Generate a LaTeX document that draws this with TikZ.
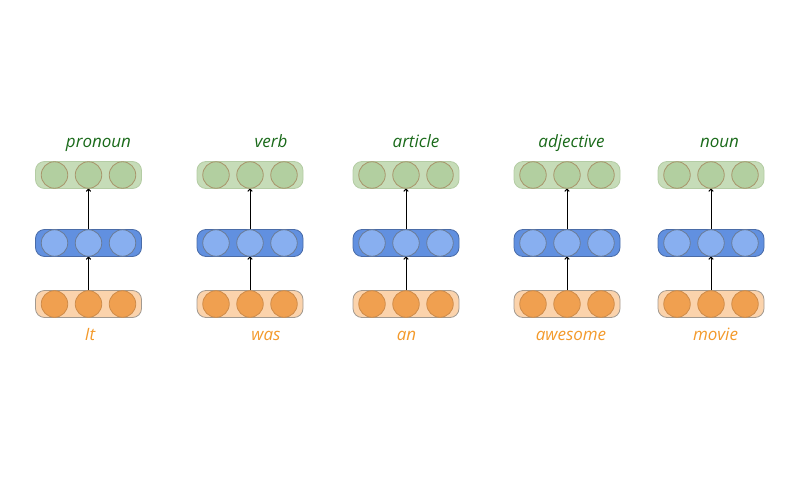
\documentclass[tikz,border=0pt]{standalone}
\usepackage{fontspec}
\setmainfont{Open Sans}
\usetikzlibrary{arrows.meta}

\definecolor{gbox}{HTML}{C6DCB8}
\definecolor{gline}{HTML}{B4CCA4}
\definecolor{gcirc}{HTML}{B2CFA0}
\definecolor{gcline}{HTML}{A8966C}
\definecolor{bbox}{HTML}{6190E0}
\definecolor{bline}{HTML}{4A6CA8}
\definecolor{bcirc}{HTML}{88AFF0}
\definecolor{bcline}{HTML}{6A7C98}
\definecolor{obox}{HTML}{FBD3AC}
\definecolor{oline}{HTML}{A39A90}
\definecolor{ocirc}{HTML}{F0A050}
\definecolor{ocline}{HTML}{CF8C4A}
\definecolor{tagtext}{HTML}{1A6A1A}
\definecolor{wordtext}{HTML}{F39A2C}

\tikzstyle{layer}=[rectangle, rounded corners=9pt, minimum width=106pt, minimum height=27pt, draw, line width=0.8pt]
\tikzstyle{unit}=[circle, minimum size=26.5pt, inner sep=0pt, draw, line width=0.8pt]
\tikzstyle{lbl}=[font=\fontsize{17}{20}\selectfont\itshape, anchor=base]

\begin{document}
\begin{tikzpicture}[x=1pt, y=-1pt]
  \useasboundingbox (0,0) rectangle (800,487);
  \foreach \n/\x/\tag/\tx/\word/\wx in {1/88.5/pronoun/98.5/It/90,
      2/250/verb/271/was/266, 3/406/article/416/an/406.5,
      4/567/adjective/571.5/awesome/571, 5/711/noun/719.5/movie/715.5} {
    % output layer
    \node[layer, fill=gbox, draw=gline] (yl\n) at (\x,175) {};
    \node[unit, fill=gcirc, draw=gcline] at (\x-34,175) {};
    \node[unit, fill=gcirc, draw=gcline] (y\n) at (\x,175) {};
    \node[unit, fill=gcirc, draw=gcline] at (\x+34,175) {};
    % hidden layer
    \node[layer, fill=bbox, draw=bline] (hl\n) at (\x,243) {};
    \node[unit, fill=bcirc, draw=bcline] at (\x-34,243) {};
    \node[unit, fill=bcirc, draw=bcline] (h\n) at (\x,243) {};
    \node[unit, fill=bcirc, draw=bcline] at (\x+34,243) {};
    % input layer
    \node[layer, fill=obox, draw=oline] (xl\n) at (\x,304) {};
    \node[unit, fill=ocirc, draw=ocline] at (\x-34,304) {};
    \node[unit, fill=ocirc, draw=ocline] (x\n) at (\x,304) {};
    \node[unit, fill=ocirc, draw=ocline] at (\x+34,304) {};
    \node[lbl, text=tagtext]  (tag\n)  at (\tx,147) {\tag};
    \node[lbl, text=wordtext] (word\n) at (\wx,340) {\word};
    \draw[line width=1pt, -{To[length=3pt, width=5pt]}] (x\n) -- (h\n);
    \draw[line width=1pt, -{To[length=3pt, width=5pt]}] (h\n) -- (y\n);
  }
\end{tikzpicture}
\end{document}
